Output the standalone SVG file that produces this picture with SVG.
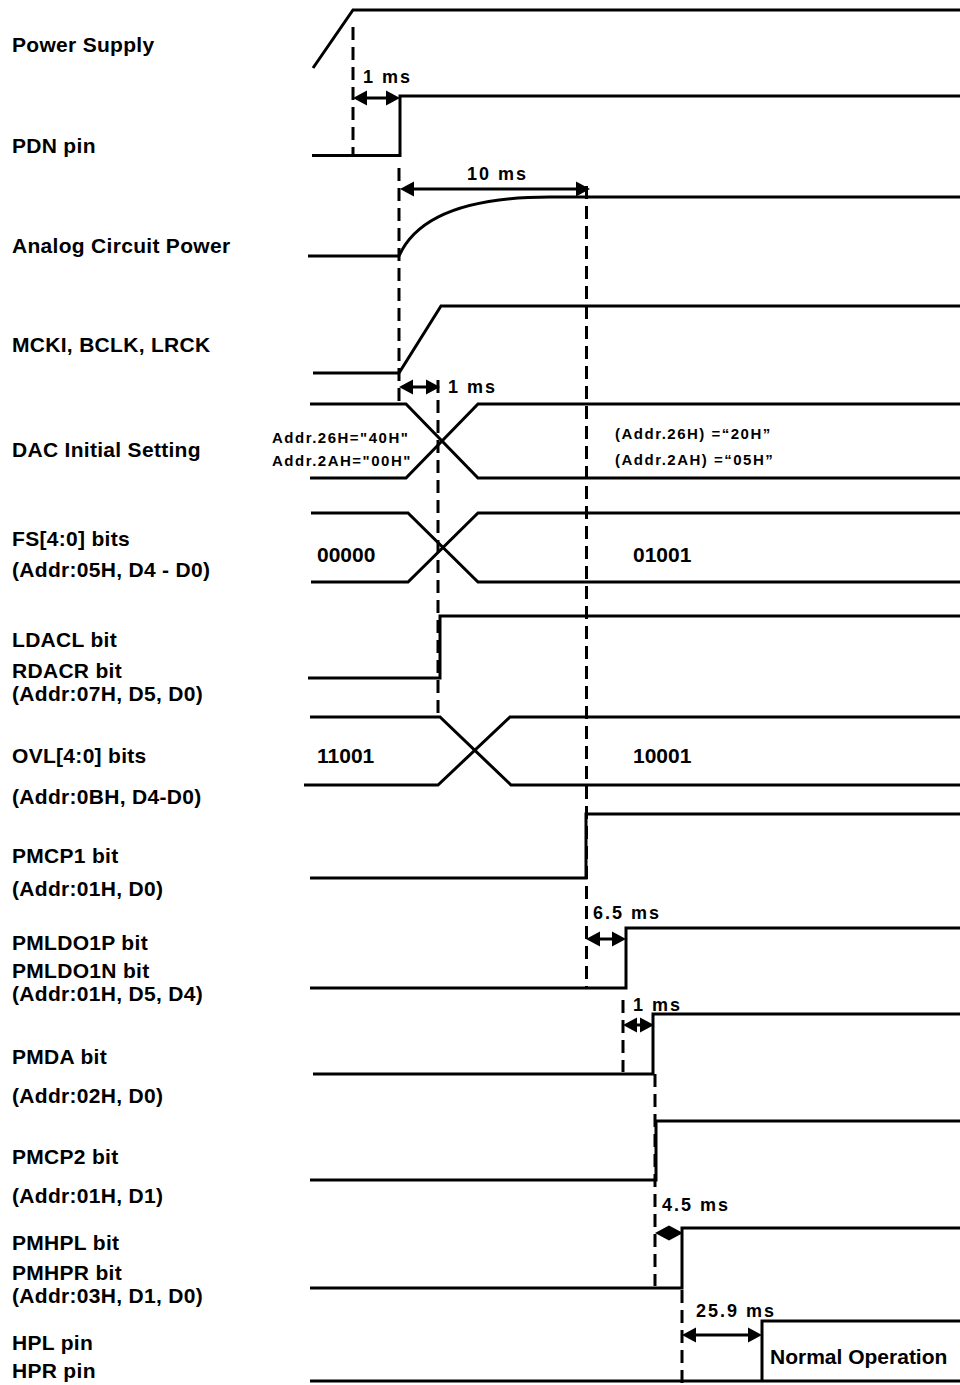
<svg xmlns="http://www.w3.org/2000/svg" width="960" height="1385" viewBox="0 0 960 1385">
<style>
.sig{fill:none;stroke:#000;stroke-width:3;stroke-linejoin:miter}
.dash{fill:none;stroke:#000;stroke-width:3;stroke-dasharray:13 7}
.shaft{fill:none;stroke:#000;stroke-width:3}
text{font-family:"Liberation Sans",Arial,sans-serif;font-weight:bold;fill:#000}
.lbl{font-size:21px;letter-spacing:0.3px}
.val{font-size:21px}
.tm{font-size:18px;letter-spacing:2px}
.sm{font-size:15px;letter-spacing:1.5px}
</style>
<defs>
<path id="ah" d="M0,0 L-14,-7.5 L-14,7.5 Z" fill="#000"/>
</defs>
<rect width="960" height="1385" fill="#fff"/>

<g id="power-supply">
<text class="lbl" x="12" y="52">Power Supply</text>
<path class="sig" d="M313,68 L353,10 L960,10"/>
</g>
<g id="pdn-pin">
<text class="lbl" x="12" y="153">PDN pin</text>
<path class="sig" d="M312,155.5 L400,155.5 L400,96 L960,96"/>
</g>
<g id="analog-circuit-power">
<text class="lbl" x="12" y="253">Analog Circuit Power</text>
<path class="sig" d="M308,256 L399,256 C415,220 460,197 550,197 L960,197"/>
</g>
<g id="mcki-bclk-lrck">
<text class="lbl" x="12" y="352">MCKI, BCLK, LRCK</text>
<path class="sig" d="M313,373 L399,373 L441,306 L960,306"/>
</g>
<g id="dac-initial-setting">
<text class="lbl" x="12" y="457">DAC Initial Setting</text>
<path class="sig" d="M310,404 L406,404 L478,478 L960,478"/>
<path class="sig" d="M310,478 L406,478 L478,404 L960,404"/>
<text class="sm" x="272" y="443">Addr.26H="40H"</text>
<text class="sm" x="272" y="466">Addr.2AH="00H"</text>
<text class="sm" x="615" y="439">(Addr.26H) =“20H”</text>
<text class="sm" x="615" y="465">(Addr.2AH) =“05H”</text>
</g>
<g id="fs-bits">
<text class="lbl" x="12" y="546">FS[4:0] bits</text>
<text class="lbl" x="12" y="577">(Addr:05H, D4 - D0)</text>
<path class="sig" d="M311,513 L408,513 L478,582 L960,582"/>
<path class="sig" d="M311,582 L408,582 L478,513 L960,513"/>
<text class="val" x="317" y="562">00000</text>
<text class="val" x="633" y="562">01001</text>
</g>
<g id="ldacl-rdacr">
<text class="lbl" x="12" y="647">LDACL bit</text>
<text class="lbl" x="12" y="678">RDACR bit</text>
<text class="lbl" x="12" y="701">(Addr:07H, D5, D0)</text>
<path class="sig" d="M308,678 L440,678 L440,616 L960,616"/>
</g>
<g id="ovl-bits">
<text class="lbl" x="12" y="763">OVL[4:0] bits</text>
<text class="lbl" x="12" y="804">(Addr:0BH, D4-D0)</text>
<path class="sig" d="M310,717 L440,717 L511,785 L960,785"/>
<path class="sig" d="M304,785 L438,785 L510,717 L960,717"/>
<text class="val" x="317" y="763">11001</text>
<text class="val" x="633" y="763">10001</text>
</g>
<g id="pmcp1">
<text class="lbl" x="12" y="863">PMCP1 bit</text>
<text class="lbl" x="12" y="896">(Addr:01H, D0)</text>
<path class="sig" d="M310,878 L586,878 L586,814 L960,814"/>
</g>
<g id="pmldo1">
<text class="lbl" x="12" y="950">PMLDO1P bit</text>
<text class="lbl" x="12" y="978">PMLDO1N bit</text>
<text class="lbl" x="12" y="1001">(Addr:01H, D5, D4)</text>
<path class="sig" d="M310,988 L626,988 L626,928 L960,928"/>
</g>
<g id="pmda">
<text class="lbl" x="12" y="1064">PMDA bit</text>
<text class="lbl" x="12" y="1103">(Addr:02H, D0)</text>
<path class="sig" d="M313,1074 L653,1074 L653,1014 L960,1014"/>
</g>
<g id="pmcp2">
<text class="lbl" x="12" y="1164">PMCP2 bit</text>
<text class="lbl" x="12" y="1203">(Addr:01H, D1)</text>
<path class="sig" d="M310,1180 L656,1180 L656,1121 L960,1121"/>
</g>
<g id="pmhp">
<text class="lbl" x="12" y="1250">PMHPL bit</text>
<text class="lbl" x="12" y="1280">PMHPR bit</text>
<text class="lbl" x="12" y="1303">(Addr:03H, D1, D0)</text>
<path class="sig" d="M310,1288 L682,1288 L682,1228 L960,1228"/>
</g>
<g id="hp-pin">
<text class="lbl" x="12" y="1350">HPL pin</text>
<text class="lbl" x="12" y="1378">HPR pin</text>
<path class="sig" d="M310,1381 L960,1381"/>
<path class="sig" d="M762,1381 L762,1321 L960,1321"/>
<text class="val" x="770" y="1364">Normal Operation</text>
</g>

<g id="connectors">
<line class="dash" x1="353" y1="27" x2="353" y2="155"/>
<line class="dash" x1="399" y1="168" x2="399" y2="405"/>
<line class="dash" x1="586.5" y1="186" x2="586.5" y2="988"/>
<line class="dash" x1="438" y1="380" x2="438" y2="715"/>
<line class="dash" x1="623" y1="1000" x2="623" y2="1072"/>
<line class="dash" x1="655" y1="1074" x2="655" y2="1286"/>
<line class="dash" x1="682" y1="1290" x2="682" y2="1383"/>

<line class="shaft" x1="358" y1="98" x2="395" y2="98"/>
<use href="#ah" transform="translate(353,98) scale(-1,1)"/>
<use href="#ah" transform="translate(400,98)"/>
<text class="tm" x="363" y="83">1 ms</text>

<line class="shaft" x1="405" y1="189" x2="585" y2="189"/>
<use href="#ah" transform="translate(400,189) scale(-1,1)"/>
<use href="#ah" transform="translate(590,189)"/>
<text class="tm" x="467" y="180">10 ms</text>

<line class="shaft" x1="404" y1="387" x2="435" y2="387"/>
<use href="#ah" transform="translate(399,387) scale(-1,1)"/>
<use href="#ah" transform="translate(440,387)"/>
<text class="tm" x="448" y="393">1 ms</text>

<line class="shaft" x1="591" y1="939" x2="621" y2="939"/>
<use href="#ah" transform="translate(586,939) scale(-1,1)"/>
<use href="#ah" transform="translate(626,939)"/>
<text class="tm" x="593" y="919">6.5 ms</text>

<line class="shaft" x1="628" y1="1025" x2="649" y2="1025"/>
<use href="#ah" transform="translate(623,1025) scale(-1,1)"/>
<use href="#ah" transform="translate(654,1025)"/>
<text class="tm" x="633" y="1011">1 ms</text>

<line class="shaft" x1="660" y1="1233" x2="678" y2="1233"/>
<use href="#ah" transform="translate(655,1233) scale(-1,1)"/>
<use href="#ah" transform="translate(683,1233)"/>
<text class="tm" x="662" y="1211">4.5 ms</text>

<line class="shaft" x1="687" y1="1335" x2="757" y2="1335"/>
<use href="#ah" transform="translate(682,1335) scale(-1,1)"/>
<use href="#ah" transform="translate(762,1335)"/>
<text class="tm" x="696" y="1317">25.9 ms</text>
</g>
</svg>
